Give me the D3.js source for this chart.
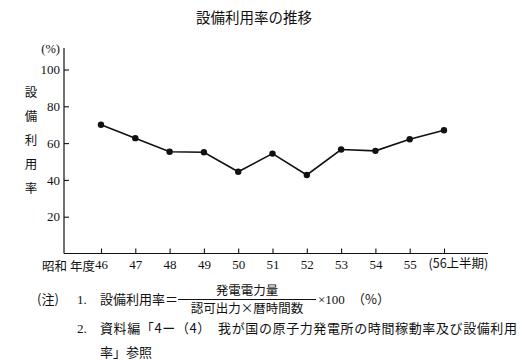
<!DOCTYPE html>
<html><head><meta charset="utf-8">
<script src="https://cdn.jsdelivr.net/npm/d3@7"></script>
<style>
body{margin:0;background:#fff;}
svg{display:block;}
.jp{font-family:"Noto Sans CJK JP","Noto Sans",sans-serif;}
.num{font-family:"Liberation Serif","DejaVu Serif",serif;}
</style></head>
<body>
<svg id="c" width="525" height="360"></svg>
<script>
const years = [46,47,48,49,50,51,52,53,54,55,56];
const yearLabels = ["46","47","48","49","50","51","52","53","54","55","(56上半期)"];
const rates = [70.0,62.7,55.3,55.0,44.4,54.3,42.7,56.5,55.8,62.1,67.0];
const yTicks = [20,40,60,80,100];
const title = "設備利用率の推移";
const yTitle = ["設","備","利","用","率"];

const svg = d3.select("#c");
const ink = "#111";
const axL = 64, axR = 488, axTop = 48, axBot = 253.5;
const x = d3.scaleLinear().domain([46,56]).range([101,444]);
const y = d3.scaleLinear().domain([0,100]).range([axBot,69.5]);

// title
svg.append("text").attr("class","jp").attr("x",254).attr("y",23)
  .attr("text-anchor","middle").attr("font-size",14.5).attr("fill",ink).text(title);

// axis lines
svg.append("line").attr("x1",axL).attr("x2",axL).attr("y1",axTop).attr("y2",axBot)
  .attr("stroke",ink).attr("stroke-width",1.2);
svg.append("line").attr("x1",axL).attr("x2",axR).attr("y1",axBot).attr("y2",axBot)
  .attr("stroke",ink).attr("stroke-width",1.2);

// y axis
const ya = svg.append("g").attr("transform",`translate(${axL},0)`)
  .call(d3.axisLeft(y).tickValues(yTicks).tickSizeInner(-5).tickSizeOuter(0).tickPadding(4));
ya.select(".domain").remove();
ya.selectAll("line").attr("stroke",ink).attr("stroke-width",1.1);
ya.selectAll("text").attr("class","num").attr("font-size",13).attr("fill",ink);

svg.append("text").attr("class","num").attr("x",60).attr("y",53)
  .attr("text-anchor","end").attr("font-size",12.5).attr("fill",ink).text("(%)");

// vertical y title
svg.append("g").selectAll("text").data(yTitle).join("text")
  .attr("class","jp").attr("x",31).attr("y",(d,i)=>97+i*24)
  .attr("text-anchor","middle").attr("font-size",12.5).attr("fill",ink).text(d=>d);

// x axis
const xa = svg.append("g").attr("transform",`translate(0,${axBot})`)
  .call(d3.axisBottom(x).tickValues(years).tickSizeInner(-5).tickSizeOuter(0).tickPadding(6)
    .tickFormat((d,i)=>yearLabels[i]));
xa.select(".domain").remove();
xa.selectAll("line").attr("stroke",ink).attr("stroke-width",1.1);
xa.selectAll("text").attr("class","num").attr("font-size",13).attr("fill",ink);
xa.selectAll("text").filter((d,i)=>i===years.length-1)
  .attr("class","jp").attr("font-size",12.5).attr("text-anchor","start").attr("dx",-16);

svg.append("text").attr("class","jp").attr("x",42).attr("y",271)
  .attr("font-size",12.5).attr("fill",ink).text("昭和");
svg.append("text").attr("class","jp").attr("x",x(46)-6).attr("y",271)
  .attr("text-anchor","end").attr("font-size",12.5).attr("fill",ink).text("年度");

// line + points
svg.append("path").datum(rates)
  .attr("d",d3.line().x((d,i)=>x(years[i])).y(d=>y(d)))
  .attr("fill","none").attr("stroke",ink).attr("stroke-width",1.6);
svg.append("g").selectAll("circle").data(rates).join("circle")
  .attr("cx",(d,i)=>x(years[i])).attr("cy",d=>y(d)).attr("r",3.2).attr("fill",ink);

// notes
const fs = 13;
svg.append("text").attr("class","jp").attr("x",37).attr("y",304).attr("font-size",fs).attr("fill",ink).text("(注)");
svg.append("text").attr("class","num").attr("x",77).attr("y",304).attr("font-size",fs).attr("fill",ink).text("1.");
svg.append("text").attr("class","jp").attr("x",100).attr("y",304).attr("font-size",fs).attr("fill",ink).text("設備利用率＝");
svg.append("line").attr("x1",178).attr("x2",316).attr("y1",299.5).attr("y2",299.5).attr("stroke",ink).attr("stroke-width",1);
svg.append("text").attr("class","jp").attr("x",247).attr("y",295).attr("text-anchor","middle").attr("font-size",12.5).attr("fill",ink).text("発電電力量");
svg.append("text").attr("class","jp").attr("x",247).attr("y",313).attr("text-anchor","middle").attr("font-size",12.5).attr("fill",ink).text("認可出力×暦時間数");
svg.append("text").attr("class","num").attr("x",318).attr("y",304).attr("font-size",fs).attr("fill",ink).text("×100");
svg.append("text").attr("class","jp").attr("x",352).attr("y",304).attr("font-size",fs).attr("fill",ink).text("（%）");
svg.append("text").attr("class","num").attr("x",77).attr("y",333).attr("font-size",fs).attr("fill",ink).text("2.");
svg.append("text").attr("class","jp").attr("x",100).attr("y",333).attr("font-size",fs).attr("fill",ink)
  .attr("textLength",417).attr("lengthAdjust","spacing")
  .text("資料編「4ー（4）　我が国の原子力発電所の時間稼動率及び設備利用");
svg.append("text").attr("class","jp").attr("x",100).attr("y",357).attr("font-size",fs).attr("fill",ink).text("率」参照");
</script>
</body></html>
